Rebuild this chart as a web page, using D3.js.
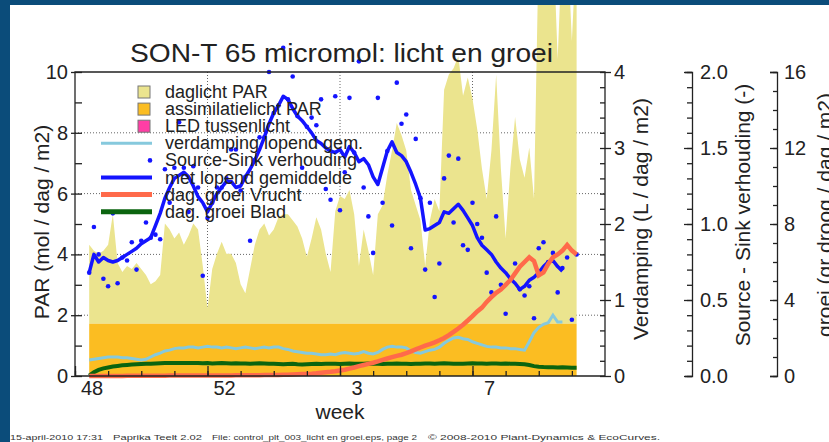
<!DOCTYPE html>
<html>
<head>
<meta charset="utf-8">
<script src="https://cdn.jsdelivr.net/npm/d3@7"></script>
<style>
  body { margin: 0; background: #fff; }
  svg { display: block; font-family: "Liberation Sans", Arial, sans-serif; }
  .axis path, .axis line { stroke: #222; stroke-width: 1.3; }
  .axis text { fill: #222; }
</style>
</head>
<body>
<div id="chart"></div>
<script>
// SON-T 65 micromol: licht en groei (week 48 2009 - week 10 2010)

const width = 829;
const height = 442;
const margin = {left: 75, right: 224, top: 72, bottom: 66};

// first day with data (one value per day after this)
const firstDay = new Date(Date.UTC(2009, 10, 26));

// daylight PAR, stacked on top of the assimilation light (mol / dag / m2)
const daglichtPAR = [
  2.6,2.4,2.3,2.4,2.6,3.6,2.0,1.7,1.9,1.8,
  2.0,1.8,1.6,1.3,1.4,1.6,3.3,3.1,2.8,3.0,
  2.6,2.9,3.3,3.1,1.9,0.5,1.8,2.3,2.7,2.3,
  2.3,2.0,1.3,1.0,1.8,2.6,3.1,3.3,2.9,3.1,
  3.5,3.6,3.6,3.4,3.2,2.8,2.2,2.8,3.5,3.1,
  2.3,1.7,3.7,4.2,4.1,4.4,3.6,1.9,3.1,2.4,
  1.6,3.6,3.9,4.9,5.7,6.6,6.2,5.7,4.4,3.9,
  3.4,1.9,3.4,4.1,3.7,7.7,8.2,8.4,8.8,7.5,
  8.1,7.4,6.4,5.1,4.1,5.7,8.2,5.1,2.8,5.1,
  6.8,5.4,4.8,5.8,4.1,12.5,12.8,12.6,12.9,8.7,
  12.7,12.8,9.3,12.6
];

// assimilation light PAR (mol / dag / m2)
const assimPAR = [
  1.72,1.72,1.72,1.72,1.72,1.72,1.72,1.72,1.72,1.72,
  1.72,1.72,1.72,1.72,1.72,1.72,1.72,1.72,1.72,1.72,
  1.72,1.72,1.72,1.72,1.72,1.72,1.72,1.72,1.72,1.72,
  1.72,1.72,1.72,1.72,1.72,1.72,1.72,1.72,1.72,1.72,
  1.72,1.72,1.72,1.72,1.72,1.72,1.72,1.72,1.72,1.72,
  1.72,1.72,1.72,1.72,1.72,1.72,1.72,1.72,1.72,1.72,
  1.72,1.72,1.72,1.72,1.72,1.72,1.72,1.72,1.72,1.72,
  1.72,1.72,1.72,1.72,1.72,1.72,1.72,1.72,1.72,1.72,
  1.72,1.72,1.72,1.72,1.72,1.72,1.72,1.72,1.72,1.72,
  1.72,1.72,1.72,1.72,1.72,1.72,1.72,1.72,1.72,1.72,
  1.72,1.72,1.72,1.72
];

// Source-Sink verhouding, daily (-)
const sourceSink = [
  0.68,0.98,0.80,0.64,0.59,1.07,0.61,0.78,0.76,0.88,
  0.70,0.89,1.01,0.91,0.93,0.90,1.36,1.14,1.37,1.67,
  1.37,1.08,1.38,1.24,0.66,1.04,1.14,1.24,1.24,1.30,
  1.49,1.49,1.22,1.31,0.89,1.42,1.57,1.57,2.00,1.73,
  1.78,2.16,1.82,1.97,1.71,1.37,1.64,1.70,1.65,1.82,
  1.23,1.16,1.84,1.09,1.34,1.83,1.47,2.07,1.24,1.05,
  0.81,1.83,1.14,1.48,0.99,1.93,1.66,1.72,0.84,1.56,
  1.17,0.70,1.14,0.52,0.74,1.30,1.45,1.01,1.43,0.86,
  0.83,1.14,1.00,0.91,0.68,0.55,1.05,0.60,0.41,0.64,
  0.74,0.57,0.53,0.59,0.38,0.84,0.88,0.75,0.81,0.55,
  0.71,0.78,0.37,0.80
];

// Source-Sink met lopend gemiddelde (-)
const sourceSinkMean = [
  0.68,0.80,0.75,0.78,0.76,0.75,0.76,0.78,0.80,0.82,
  0.84,0.87,0.89,0.91,0.99,1.07,1.17,1.24,1.30,1.32,
  1.34,1.31,1.25,1.18,1.14,1.08,1.14,1.20,1.24,1.28,
  1.28,1.24,1.25,1.31,1.36,1.42,1.49,1.57,1.66,1.73,
  1.78,1.84,1.82,1.76,1.71,1.68,1.64,1.60,1.55,1.53,
  1.50,1.48,1.47,1.49,1.44,1.51,1.47,1.41,1.43,1.39,
  1.31,1.26,1.37,1.48,1.54,1.47,1.45,1.41,1.34,1.26,
  1.17,0.96,0.97,0.99,1.01,1.08,1.07,1.10,1.13,1.09,
  1.04,0.99,0.91,0.86,0.83,0.80,0.75,0.71,0.68,0.64,
  0.61,0.57,0.59,0.63,0.65,0.68,0.72,0.75,0.76,0.72,
  0.69
];

// verdamping lopend gemiddelde (L / dag / m2)
const verdamping = [
  0.21,0.22,0.23,0.24,0.25,0.25,0.25,0.24,0.24,0.23,
  0.22,0.21,0.22,0.25,0.28,0.30,0.33,0.34,0.36,0.37,
  0.37,0.38,0.38,0.37,0.38,0.39,0.38,0.38,0.37,0.38,
  0.37,0.36,0.37,0.38,0.37,0.36,0.37,0.38,0.37,0.38,
  0.38,0.36,0.35,0.33,0.32,0.31,0.30,0.30,0.29,0.28,
  0.28,0.29,0.28,0.30,0.31,0.30,0.29,0.30,0.32,0.30,
  0.29,0.31,0.35,0.38,0.39,0.38,0.38,0.37,0.33,0.31,
  0.30,0.32,0.34,0.35,0.38,0.43,0.47,0.50,0.51,0.49,
  0.48,0.45,0.43,0.41,0.39,0.38,0.38,0.37,0.37,0.36,
  0.36,0.35,0.34,0.45,0.57,0.64,0.68,0.70,0.80,0.71,
  0.71
];

// dag. groei Vrucht (gr droog / dag / m2)
const groeiVrucht = [
  0.00,0.00,0.00,0.00,0.00,0.00,0.00,0.00,0.01,0.01,
  0.01,0.01,0.01,0.01,0.01,0.01,0.01,0.02,0.02,0.02,
  0.02,0.02,0.02,0.02,0.02,0.03,0.03,0.03,0.03,0.03,
  0.03,0.04,0.04,0.04,0.04,0.04,0.04,0.05,0.05,0.05,
  0.05,0.06,0.07,0.08,0.09,0.10,0.11,0.12,0.14,0.17,
  0.20,0.22,0.25,0.29,0.33,0.39,0.45,0.52,0.58,0.64,
  0.70,0.77,0.85,0.92,0.99,1.06,1.12,1.20,1.30,1.40,
  1.50,1.60,1.68,1.77,1.88,2.00,2.15,2.32,2.50,2.70,
  2.92,3.15,3.40,3.60,3.90,4.15,4.38,4.55,4.80,5.05,
  5.40,5.75,6.00,6.25,6.05,5.30,5.45,5.90,6.25,6.40,
  6.60,6.90,6.60,6.40
];

// dag. groei Blad (gr droog / dag / m2)
const groeiBlad = [
  0.02,0.20,0.32,0.40,0.45,0.50,0.53,0.56,0.58,0.60,
  0.62,0.63,0.64,0.65,0.66,0.67,0.68,0.68,0.69,0.69,
  0.68,0.68,0.69,0.68,0.67,0.68,0.66,0.67,0.68,0.67,
  0.66,0.67,0.66,0.66,0.65,0.66,0.67,0.66,0.65,0.64,
  0.63,0.62,0.63,0.64,0.62,0.61,0.62,0.63,0.64,0.63,
  0.64,0.65,0.64,0.63,0.65,0.66,0.65,0.64,0.65,0.66,
  0.65,0.64,0.63,0.64,0.65,0.66,0.65,0.64,0.63,0.64,
  0.65,0.66,0.66,0.65,0.66,0.67,0.66,0.65,0.64,0.65,
  0.66,0.67,0.66,0.66,0.65,0.66,0.66,0.65,0.66,0.65,
  0.64,0.63,0.62,0.58,0.52,0.49,0.47,0.46,0.46,0.45,
  0.46,0.45,0.44,0.44
];

// axis ticks
const parTicks = [0, 2, 4, 6, 8, 10];
const verdTicks = [0, 1, 2, 3, 4];
const ssTicks = [0, 0.5, 1, 1.5, 2];
const groeiTicks = [0, 4, 8, 12, 16];
const gridPAR = [2, 4, 6, 8];

const legendItems = [
  {label: "daglicht PAR", type: "box", color: "#ebe48e"},
  {label: "assimilatielicht PAR", type: "box", color: "#fbbd22"},
  {label: "LED tussenlicht", type: "box", color: "#ff3ea5"},
  {label: "verdamping lopend gem.", type: "line", color: "#86c9dd", w: 3},
  {label: "Source-Sink verhouding", type: "dot", color: "#1414ff"},
  {label: "met lopend gemiddelde", type: "line", color: "#1414ff", w: 4},
  {label: "dag. groei Vrucht", type: "line", color: "#ff6a4a", w: 5},
  {label: "dag. groei Blad", type: "line", color: "#0b640f", w: 5}
];

const day = i => d3.utcDay.offset(firstDay, i);

const svg = d3.select("#chart")
  .append("svg")
  .attr("width", width)
  .attr("height", height);

// scales
const x = d3.scaleUtc()
  .domain([Date.UTC(2009, 10, 23), Date.UTC(2010, 2, 15)])
  .range([margin.left, width - margin.right]);

const yPAR = d3.scaleLinear().domain([0, 10]).range([height - margin.bottom, margin.top]);
const yVerd = d3.scaleLinear().domain([0, 4]).range([height - margin.bottom, margin.top]);
const ySS = d3.scaleLinear().domain([0, 2]).range([height - margin.bottom, margin.top]);
const yGroei = d3.scaleLinear().domain([0, 16]).range([height - margin.bottom, margin.top]);

const x0 = margin.left, x1 = width - margin.right;
const yTop = margin.top, yBot = height - margin.bottom;

// dotted grid
const grid = svg.append("g").attr("stroke", "#666").attr("stroke-width", 1).attr("stroke-dasharray", "1,2");
grid.selectAll(".hgrid").data(gridPAR).enter().append("line")
  .attr("x1", x0).attr("x2", x1)
  .attr("y1", d => yPAR(d)).attr("y2", d => yPAR(d));
const weekStarts = d3.utcMonday.range(x.domain()[0], x.domain()[1]);
const majorWeeks = weekStarts.filter((d, i) => i % 4 === 0);
grid.selectAll(".vgrid").data(majorWeeks.slice(1)).enter().append("line")
  .attr("x1", d => x(d)).attr("x2", d => x(d))
  .attr("y1", yTop).attr("y2", yBot);

// light areas
const idx = d3.range(daglichtPAR.length);
svg.append("path")
  .datum(idx)
  .attr("fill", "#ebe48e")
  .attr("d", d3.area()
    .x(i => x(day(i)))
    .y0(i => yPAR(assimPAR[i]))
    .y1(i => yPAR(assimPAR[i] + daglichtPAR[i])));

svg.append("path")
  .datum(idx)
  .attr("fill", "#fbbd22")
  .attr("d", d3.area()
    .x(i => x(day(i)))
    .y0(yPAR(0))
    .y1(i => yPAR(assimPAR[i])));

// verdamping
svg.append("path")
  .datum(verdamping)
  .attr("fill", "none")
  .attr("stroke", "#86c9dd")
  .attr("stroke-width", 3)
  .attr("d", d3.line().x((d, i) => x(day(i))).y(d => yVerd(d)));

// source-sink dots + running mean
svg.append("g").selectAll("circle")
  .data(sourceSink)
  .enter()
  .append("circle")
  .attr("cx", (d, i) => x(day(i)))
  .attr("cy", d => ySS(d))
  .attr("r", 2.3)
  .attr("fill", "#1414ff");

svg.append("path")
  .datum(sourceSinkMean)
  .attr("fill", "none")
  .attr("stroke", "#1414ff")
  .attr("stroke-width", 3.5)
  .attr("stroke-linejoin", "round")
  .attr("d", d3.line().x((d, i) => x(day(i))).y(d => ySS(d)));

// growth lines
svg.append("path")
  .datum(groeiBlad)
  .attr("fill", "none")
  .attr("stroke", "#0b640f")
  .attr("stroke-width", 4)
  .attr("d", d3.line().x((d, i) => x(day(i))).y(d => yGroei(d)));

svg.append("path")
  .datum(groeiVrucht)
  .attr("fill", "none")
  .attr("stroke", "#ff6a4a")
  .attr("stroke-width", 4.5)
  .attr("d", d3.line().x((d, i) => x(day(i))).y(d => yGroei(d)));

// frame
svg.append("path")
  .attr("fill", "none")
  .attr("stroke", "#222")
  .attr("stroke-width", 1.3)
  .attr("d", `M${x0},${yBot}V${yTop}H${x1}V${yBot}Z`);

// left axis: minor inside, major crossing
svg.append("g").attr("class", "axis")
  .attr("transform", `translate(${x0},0)`)
  .call(d3.axisLeft(yPAR).tickValues(d3.range(0, 11, 1)).tickSize(-7).tickSizeOuter(0).tickFormat(""))
  .call(g => g.select(".domain").remove());
svg.append("g").attr("class", "axis")
  .attr("transform", `translate(${x0},0)`)
  .call(d3.axisLeft(yPAR).tickValues(parTicks).tickSize(4).tickPadding(3).tickSizeOuter(0))
  .attr("font-size", "20px")
  .call(g => g.select(".domain").remove());

// bottom axis: weekly ticks inward, labels mid-week
svg.append("g").attr("class", "axis")
  .attr("transform", `translate(0,${yBot})`)
  .call(d3.axisBottom(x).tickValues(weekStarts).tickSize(-5).tickFormat(""))
  .call(g => g.select(".domain").remove());
svg.append("g").attr("class", "axis")
  .attr("transform", `translate(0,${yBot})`)
  .call(d3.axisBottom(x).tickValues(majorWeeks).tickSize(-10).tickFormat(""))
  .call(g => g.select(".domain").remove());
svg.append("g").attr("class", "axis")
  .attr("transform", `translate(0,${yBot})`)
  .call(d3.axisBottom(x)
    .tickValues(majorWeeks.map(d => d3.utcHour.offset(d, 84)))
    .tickSize(0).tickPadding(5)
    .tickFormat(d => +d3.utcFormat("%V")(d)))
  .attr("font-size", "20px")
  .call(g => g.select(".domain").remove());

// right axis: verdamping
svg.append("g").attr("class", "axis")
  .attr("transform", `translate(${x1},0)`)
  .call(d3.axisRight(yVerd).tickValues(d3.range(0, 4.01, 0.2)).tickSize(-5).tickFormat(""))
  .call(g => g.select(".domain").remove());
svg.append("g").attr("class", "axis")
  .attr("transform", `translate(${x1},0)`)
  .call(d3.axisRight(yVerd).tickValues(verdTicks).tickSize(6).tickPadding(3).tickSizeOuter(0)
    .tickFormat(d3.format("d")))
  .attr("font-size", "20px")
  .call(g => g.select(".domain").remove());

// source-sink axis
svg.append("g").attr("class", "axis")
  .attr("transform", `translate(692,0)`)
  .call(d3.axisRight(ySS).tickValues(d3.range(0, 2.01, 0.1)).tickSize(-5).tickSizeOuter(-7).tickFormat(""));
svg.append("g").attr("class", "axis")
  .attr("transform", `translate(692,0)`)
  .call(d3.axisRight(ySS).tickValues(ssTicks).tickSize(-8).tickPadding(8).tickFormat(d3.format(".1f")))
  .attr("font-size", "20px")
  .call(g => g.select(".domain").remove());

// groei axis
svg.append("g").attr("class", "axis")
  .attr("transform", `translate(777,0)`)
  .call(d3.axisRight(yGroei).tickValues(d3.range(0, 16.01, 1)).tickSize(-4).tickSizeOuter(-7).tickFormat(""));
svg.append("g").attr("class", "axis")
  .attr("transform", `translate(777,0)`)
  .call(d3.axisRight(yGroei).tickValues(groeiTicks).tickSize(-7).tickPadding(7).tickFormat(d3.format("d")))
  .attr("font-size", "20px")
  .call(g => g.select(".domain").remove());

// axis titles
const titles = [
  {text: "PAR (mol / dag / m2)", x: 49, y: 222},
  {text: "Verdamping (L / dag / m2)", x: 648, y: 219},
  {text: "Source - Sink verhouding (-)", x: 750, y: 215},
  {text: "groei (gr droog / dag / m2)", x: 832, y: 215}
];
svg.selectAll(".ytitle").data(titles).enter().append("text")
  .attr("transform", d => `translate(${d.x},${d.y}) rotate(-90)`)
  .attr("text-anchor", "middle")
  .attr("font-size", "21px")
  .attr("fill", "#222")
  .text(d => d.text);

svg.append("text")
  .attr("x", 340).attr("y", 419)
  .attr("text-anchor", "middle")
  .attr("font-size", "21px")
  .attr("fill", "#222")
  .text("week");

svg.append("text")
  .attr("x", 130).attr("y", 62)
  .attr("font-size", "26px")
  .attr("textLength", 423)
  .attr("lengthAdjust", "spacingAndGlyphs")
  .attr("fill", "#222")
  .text("SON-T 65 micromol: licht en groei");

// legend
const legend = svg.append("g");
legendItems.forEach((d, i) => {
  const cy = 92 + i * 17.1;
  if (d.type === "box") {
    legend.append("rect").attr("x", 138).attr("y", cy - 6).attr("width", 12).attr("height", 12)
      .attr("fill", d.color).attr("stroke", "#777").attr("stroke-width", 1);
  } else if (d.type === "line") {
    legend.append("line").attr("x1", 101).attr("x2", 152).attr("y1", cy).attr("y2", cy)
      .attr("stroke", d.color).attr("stroke-width", d.w);
  } else {
    legend.append("circle").attr("cx", 150).attr("cy", cy).attr("r", 2.3).attr("fill", d.color);
  }
  legend.append("text").attr("x", 165).attr("y", cy + 6)
    .attr("font-size", "18px").attr("fill", "#222").text(d.label);
});

// footer
const footer = [
  {text: "15-april-2010 17:31", x: 10, len: 93},
  {text: "Paprika Teelt 2.02", x: 113, len: 89},
  {text: "File: control_plt_003_licht en groei.eps, page 2", x: 212, len: 205},
  {text: "\u00a9 2008-2010 Plant-Dynamics & EcoCurves.", x: 428, len: 232}
];
svg.selectAll(".foot").data(footer).enter().append("text")
  .attr("x", d => d.x).attr("y", 440)
  .attr("font-size", "8px")
  .attr("textLength", d => d.len)
  .attr("lengthAdjust", "spacingAndGlyphs")
  .attr("fill", "#333")
  .text(d => d.text);

// blue page border
svg.append("rect").attr("x", 0).attr("y", 0).attr("width", width).attr("height", 5).attr("fill", "#0b4c7a");
svg.append("rect").attr("x", 0).attr("y", 0).attr("width", 10).attr("height", height).attr("fill", "#0b4c7a");
</script>
</body>
</html>
